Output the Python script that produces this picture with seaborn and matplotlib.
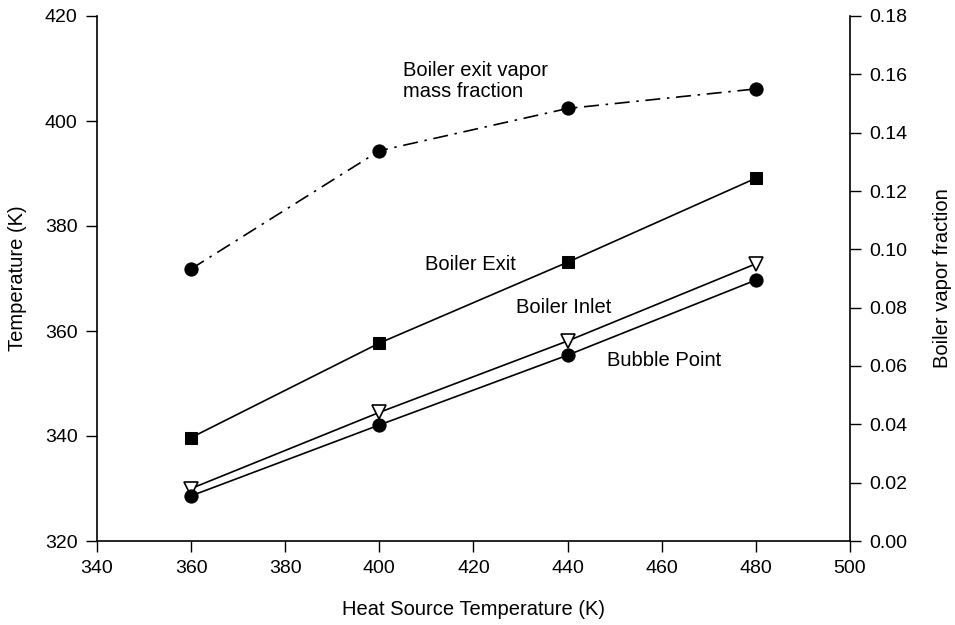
import matplotlib
matplotlib.use("Agg")
import matplotlib.pyplot as plt
import seaborn as sns

heat_source_T = [360, 400, 440, 480]
boiler_exit_T = [339.7, 357.7, 373.1, 389.1]
boiler_inlet_T = [330.0, 344.5, 358.1, 372.8]
bubble_point_T = [328.6, 342.1, 355.4, 369.7]
vapor_fraction = [0.0933, 0.1338, 0.1483, 0.155]

x_ticks = [340, 360, 380, 400, 420, 440, 460, 480, 500]
y_ticks = [320, 340, 360, 380, 400, 420]
y2_ticks = [0.00, 0.02, 0.04, 0.06, 0.08, 0.10, 0.12, 0.14, 0.16, 0.18]

sns.set_theme(style="ticks")
plt.rcParams['font.family'] = ['Liberation Sans', 'DejaVu Sans']
plt.rcParams['text.color'] = 'black'
plt.rcParams['axes.labelcolor'] = 'black'

fig = plt.figure(figsize=(9.55, 6.25), dpi=100)
ax = fig.add_axes([0.1016, 0.1344, 0.7884, 0.84])
ax2 = ax.twinx()

lw = 1.2
sns.lineplot(x=heat_source_T, y=boiler_exit_T, ax=ax, color='black', marker='s',
             markersize=9, markeredgecolor='black', linewidth=lw)
sns.lineplot(x=heat_source_T, y=boiler_inlet_T, ax=ax, color='black', marker='v',
             markersize=10, markerfacecolor='white', markeredgecolor='black',
             markeredgewidth=1.2, linewidth=lw)
sns.lineplot(x=heat_source_T, y=bubble_point_T, ax=ax, color='black', marker='o',
             markersize=9.5, markeredgecolor='black', linewidth=lw)
sns.lineplot(x=heat_source_T, y=vapor_fraction, ax=ax2, color='black', marker='o',
             markersize=9.5, markeredgecolor='black', linewidth=lw,
             linestyle=(0, (9, 4, 1.5, 4)))

ax.set_xlim(340, 500)
ax.set_ylim(320, 420)
ax2.set_ylim(0, 0.18)
ax.set_xticks(x_ticks)
ax.set_yticks(y_ticks)
ax2.set_yticks(y2_ticks)
ax2.set_yticklabels([f"{v:.2f}" for v in y2_ticks])

for a in (ax, ax2):
    a.spines['top'].set_visible(False)
    for s in a.spines.values():
        s.set_color('black')
        s.set_linewidth(1.2)
    a.tick_params(axis='both', direction='out', length=8, width=1.0,
                  colors='black', labelsize=14, pad=6)
ax.spines['right'].set_visible(False)
ax2.spines['left'].set_visible(False)
ax2.spines['bottom'].set_visible(False)

fs = 14.5
ax.set_xlabel("Heat Source Temperature (K)", fontsize=fs, labelpad=16)
ax.set_ylabel("Temperature (K)", fontsize=fs, labelpad=13)
ax2.set_ylabel("Boiler vapor fraction", fontsize=fs, labelpad=18)

fig.text(403/955, 1-81/625, "Boiler exit vapor\nmass fraction", fontsize=fs,
         va='center', ha='left', linespacing=1.1)
fig.text(425/955, 1-264/625, "Boiler Exit", fontsize=fs, va='center', ha='left')
fig.text(516/955, 1-307/625, "Boiler Inlet", fontsize=fs, va='center', ha='left')
fig.text(607/955, 1-361/625, "Bubble Point", fontsize=fs, va='center', ha='left')

fig.savefig("out.png", dpi=100)
